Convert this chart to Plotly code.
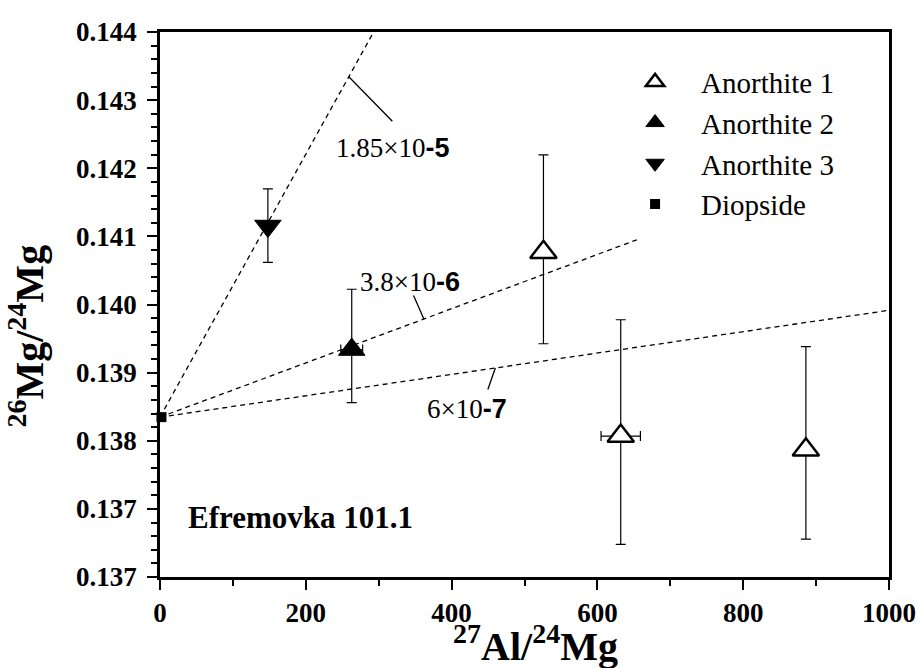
import plotly.graph_objects as go

# ---------------- data ----------------
# y-axis: 9 evenly spaced ticks, labels as printed
y_tick_vals = [0.1365, 0.1374375, 0.138375, 0.1393125, 0.14025,
               0.1411875, 0.142125, 0.1430625, 0.144]
y_tick_text = ["0.137", "0.137", "0.138", "0.139", "0.140",
               "0.141", "0.142", "0.143", "0.144"]
x_tick_vals = [0, 200, 400, 600, 800, 1000]

an1_x = [526, 632, 886]
an1_y = [0.14097, 0.13844, 0.13825]
an1_err_plus = [0.00134, 0.00160, 0.00142]
an1_err_minus = [0.00126, 0.00149, 0.00123]
an1_xerr = [0, 27, 0]

an2_x = [263]
an2_y = [0.13963]
an2_err_plus = [0.00083]
an2_err_minus = [0.00073]
an2_xerr = [15]

an3_x = [148]
an3_y = [0.14133]
an3_err_plus = [0.00051]
an3_err_minus = [0.00050]

diop_x = [2]
diop_y = [0.13870]

# isochron reference lines: start at diopside, end points
line_labels = ["1.85×10<span style='font-family:Liberation Sans;font-weight:bold'>-5</span>",
               "3.8×10<span style='font-family:Liberation Sans;font-weight:bold'>-6</span>",
               "6×10<span style='font-family:Liberation Sans;font-weight:bold'>-7</span>"]
line_end_x = [293, 654, 1000]
line_end_y = [0.1440, 0.14114, 0.14017]
# leader positions along each line (x) and label centres (x, y)
leader_x = [259, 362, 460]
label_x = [319, 343, 421]
label_y = [0.14240, 0.14056, 0.13881]

# ---------------- figure ----------------
SERIF = "Liberation Serif"
fig = go.Figure()

for i in range(3):
    fig.add_trace(go.Scatter(
        x=[0, line_end_x[i]], y=[diop_y[0], line_end_y[i]],
        mode="lines", line=dict(color="black", width=1.3, dash="5px,4px"),
        showlegend=False, hoverinfo="skip"))

err_style = dict(type="data", color="black", thickness=1.2, width=5, symmetric=False)

fig.add_trace(go.Scatter(
    x=an1_x, y=an1_y, mode="markers", name="Anorthite 1", legendgroup="a1",
    marker=dict(symbol="triangle-up", size=23, color="white",
                line=dict(color="black", width=2.5)),
    error_y=dict(array=an1_err_plus, arrayminus=an1_err_minus, **err_style),
    error_x=dict(type="data", array=an1_xerr, color="black", thickness=1.2, width=5),
    cliponaxis=False))
fig.add_trace(go.Scatter(
    x=an2_x, y=an2_y, mode="markers", name="Anorthite 2", legendgroup="a2",
    marker=dict(symbol="triangle-up", size=23, color="black",
                line=dict(color="black", width=1)),
    error_y=dict(array=an2_err_plus, arrayminus=an2_err_minus, **err_style),
    error_x=dict(type="data", array=an2_xerr, color="black", thickness=1.2, width=5),
    cliponaxis=False))
fig.add_trace(go.Scatter(
    x=an3_x, y=an3_y, mode="markers", name="Anorthite 3", legendgroup="a3",
    marker=dict(symbol="triangle-down", size=23, color="black",
                line=dict(color="black", width=1)),
    error_y=dict(array=an3_err_plus, arrayminus=an3_err_minus, **err_style),
    cliponaxis=False))
fig.add_trace(go.Scatter(
    x=diop_x, y=diop_y, mode="markers", name="Diopside", legendgroup="d",
    marker=dict(symbol="square", size=10, color="black"),
    cliponaxis=False))

annotations = []
for i in range(3):
    # y on the line at the leader position
    ly = diop_y[0] + (line_end_y[i] - diop_y[0]) * leader_x[i] / line_end_x[i]
    annotations.append(dict(x=leader_x[i], y=ly, xref="x", yref="y", text="",
                            showarrow=True, arrowhead=0, arrowwidth=1.3,
                            arrowcolor="black",
                            ax=[45, -11, -8][i], ay=[46, -25, 23][i]))
    annotations.append(dict(x=label_x[i], y=label_y[i], xref="x", yref="y",
                            text=line_labels[i], showarrow=False,
                            font=dict(family=SERIF, size=27, color="black")))

annotations.append(dict(x=0.036, y=0.11, xref="paper", yref="paper",
                        xanchor="left", yanchor="middle",
                        text="<b>Efremovka 101.1</b>", showarrow=False,
                        font=dict(family=SERIF, size=31, color="black")))
annotations.append(dict(x=0.515, y=-0.172, xref="paper", yref="paper",
                        text="<b><sup>27</sup>Al/<sup>24</sup>Mg</b>", showarrow=False,
                        font=dict(family=SERIF, size=40, color="black")))
annotations.append(dict(x=-0.221, y=0.442, xref="paper", yref="paper",
                        text="<b><sup>26</sup>Mg/<sup>24</sup>Mg</b>", showarrow=False,
                        textangle=-90,
                        font=dict(family=SERIF, size=40, color="black")))

axis_common = dict(showline=True, linecolor="black", linewidth=2.5, mirror=True,
                   ticks="outside", ticklen=10, tickwidth=2, tickcolor="black",
                   showgrid=False, zeroline=False, automargin=False,
                   tickfont=dict(family=SERIF, size=27, color="black", weight="bold"))

fig.update_layout(
    width=920, height=668,
    margin=dict(l=160, r=31, t=32, b=91),
    paper_bgcolor="white", plot_bgcolor="white",
    showlegend=True,
    legend=dict(x=0.616, y=0.955, xanchor="left", yanchor="top",
                bgcolor="rgba(0,0,0,0)", borderwidth=0,
                font=dict(family=SERIF, size=29, color="black"),
                traceorder="grouped", tracegroupgap=0, itemwidth=82),
    annotations=annotations,
    xaxis=dict(range=[0, 1000], tickmode="array", tickvals=x_tick_vals,
               minor=dict(dtick=100, tick0=0, ticks="outside", ticklen=6,
                          tickwidth=2, tickcolor="black", showgrid=False),
               **axis_common),
    yaxis=dict(range=[y_tick_vals[0], y_tick_vals[-1]], tickmode="array",
               tickvals=y_tick_vals, ticktext=y_tick_text, ticklabelstandoff=5,
               minor=dict(dtick=0.0001875, tick0=0.1365, ticks="outside", ticklen=6,
                          tickwidth=2, tickcolor="black", showgrid=False),
               **axis_common),
)

# remove the page's default body margin so the figure fills the window exactly
fig.write_html("out.html", config={"displayModeBar": False},
               post_script="document.body.style.margin='0';")
